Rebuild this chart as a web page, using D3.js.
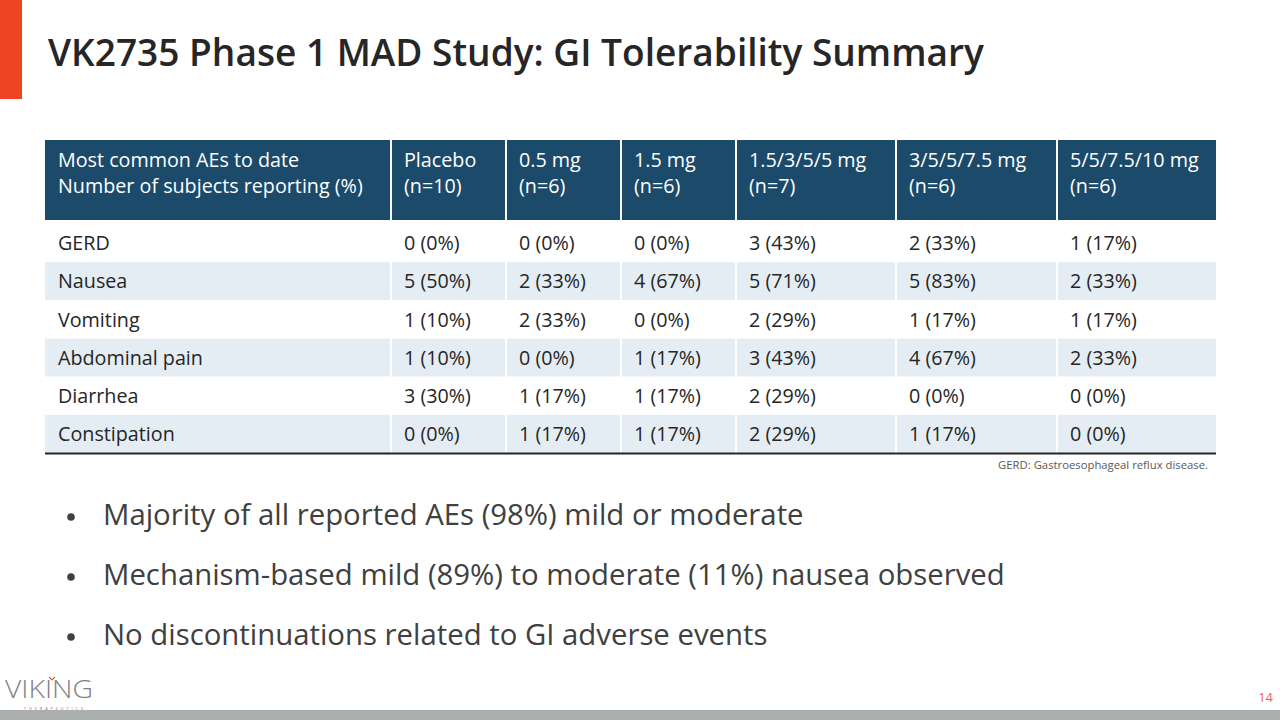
<!DOCTYPE html>
<html><head><meta charset="utf-8">
<script src="https://cdn.jsdelivr.net/npm/d3@7"></script>
<style>html,body{margin:0;padding:0;background:#fff;}svg{display:block;}</style>
</head><body>
<svg id="c" width="1280" height="720"></svg>
<script>
// ---- data ----
const title = "VK2735 Phase 1 MAD Study: GI Tolerability Summary";
const headerLabel = ["Most common AEs to date", "Number of subjects reporting (%)"];
const groups = ["Placebo", "0.5 mg", "1.5 mg", "1.5/3/5/5 mg", "3/5/5/7.5 mg", "5/5/7.5/10 mg"];
const groupN = [10, 6, 6, 7, 6, 6];
const events = ["GERD", "Nausea", "Vomiting", "Abdominal pain", "Diarrhea", "Constipation"];
const gerdCounts = [0, 0, 0, 3, 2, 1];
const gerdPct = [0, 0, 0, 43, 33, 17];
const nauseaCounts = [5, 2, 4, 5, 5, 2];
const nauseaPct = [50, 33, 67, 71, 83, 33];
const vomitingCounts = [1, 2, 0, 2, 1, 1];
const vomitingPct = [10, 33, 0, 29, 17, 17];
const abdominalCounts = [1, 0, 1, 3, 4, 2];
const abdominalPct = [10, 0, 17, 43, 67, 33];
const diarrheaCounts = [3, 1, 1, 2, 0, 0];
const diarrheaPct = [30, 17, 17, 29, 0, 0];
const constipationCounts = [0, 1, 1, 2, 1, 0];
const constipationPct = [0, 17, 17, 29, 17, 0];
const footnote = "GERD: Gastroesophageal reflux disease.";
const bullets = [
  "Majority of all reported AEs (98%) mild or moderate",
  "Mechanism-based mild (89%) to moderate (11%) nausea observed",
  "No discontinuations related to GI adverse events"
];
const pageNumber = "14";

// ---- build table ----
const counts = [gerdCounts, nauseaCounts, vomitingCounts, abdominalCounts, diarrheaCounts, constipationCounts];
const pcts = [gerdPct, nauseaPct, vomitingPct, abdominalPct, diarrheaPct, constipationPct];
const rows = events.map((e, i) => ({event: e, i, cells: counts[i].map((c, j) => `${c} (${pcts[i][j]}%)`)}));

const svg = d3.select("#c");
const FONT = "'Open Sans', 'Noto Sans', sans-serif";

function fitSize(text, targetW, weight, base) {
  const t = svg.append("text").attr("font-family", FONT).attr("font-weight", weight)
    .attr("font-size", base).text(text);
  const w = t.node().getComputedTextLength();
  t.remove();
  return base * targetW / w;
}

// red accent & bottom bar
svg.append("rect").attr("x", 0).attr("y", 0).attr("width", 22).attr("height", 99).attr("fill", "#EE4424");
svg.append("rect").attr("x", 0).attr("y", 710).attr("width", 1280).attr("height", 10).attr("fill", "#ABAFAE");

// title
const titleSize = fitSize(title, 936, 600, 34);
svg.append("text").attr("x", 48).attr("y", 66).attr("font-family", FONT).attr("font-weight", 600)
  .attr("font-size", titleSize).attr("fill", "#262626").text(title);

// table layout
const colEdges = [45, 391, 506, 621, 736, 896, 1057, 1216];
const colNames = ["label"].concat(groups);
const xLeft = d3.scaleOrdinal().domain(colNames).range(colEdges.slice(0, -1));
const xRight = d3.scaleOrdinal().domain(colNames).range(colEdges.slice(1));
const headTop = 140, headBot = 220;
const y = d3.scaleBand().domain(events).range([224, 453]).paddingInner(0);

const cellSize = fitSize("Number of subjects reporting (%)", 305, 400, 20);
const padX = 13;

// header
const hdr = svg.append("g");
colNames.forEach((c, j) => {
  const x0 = xLeft(c), x1 = xRight(c);
  hdr.append("rect").attr("x", x0 + (j ? 1 : 0)).attr("y", headTop)
    .attr("width", x1 - x0 - (j ? 1 : 0) - (j < colNames.length - 1 ? 1 : 0)).attr("height", headBot - headTop)
    .attr("fill", "#1B4A6A");
  const lines = j === 0 ? headerLabel : [c, `(n=${groupN[j - 1]})`];
  lines.forEach((l, k) => {
    hdr.append("text").attr("x", x0 + padX).attr("y", 167 + k * 26).attr("font-family", FONT)
      .attr("font-size", cellSize).attr("fill", "#ffffff").text(l);
  });
});

// body
const body = svg.append("g");
const rg = body.selectAll("g.row").data(rows).join("g").attr("class", "row");
rg.each(function (r) {
  const g = d3.select(this);
  const y0 = y(r.event), h = y.bandwidth();
  const fill = r.i % 2 === 1 ? "#E5EDF4" : "#ffffff";
  const vals = [r.event].concat(r.cells);
  colNames.forEach((c, j) => {
    const x0 = xLeft(c), x1 = xRight(c);
    g.append("rect").attr("x", x0 + (j ? 1 : 0)).attr("y", y0)
      .attr("width", x1 - x0 - (j ? 1 : 0) - (j < colNames.length - 1 ? 1 : 0)).attr("height", h)
      .attr("fill", fill);
    g.append("text").attr("x", x0 + padX).attr("y", y0 + h / 2).attr("dy", "0.36em")
      .attr("font-family", FONT).attr("font-size", cellSize).attr("fill", "#262626").text(vals[j]);
  });
});
svg.append("line").attr("x1", 45).attr("x2", 1216).attr("y1", 453.5).attr("y2", 453.5)
  .attr("stroke", "#262626").attr("stroke-width", 2);

// footnote
svg.append("text").attr("x", 1208).attr("y", 469).attr("text-anchor", "end").attr("font-family", FONT)
  .attr("font-size", 11.3).attr("fill", "#595959").text(footnote);

// bullets
const bSize = fitSize(bullets[1], 902, 400, 30);
bullets.forEach((b, i) => {
  const by = 525 + i * 60;
  svg.append("circle").attr("cx", 71).attr("cy", by - 8).attr("r", 3.8).attr("fill", "#404040");
  svg.append("text").attr("x", 103).attr("y", by).attr("font-family", FONT).attr("font-size", bSize)
    .attr("fill", "#404040").text(b);
});

// logo
svg.append("text").attr("x", 5).attr("y", 698).attr("font-family", FONT).attr("font-weight", 300)
  .attr("font-size", 25).attr("fill", "#808285").attr("textLength", 88).attr("lengthAdjust", "spacingAndGlyphs").text("VIKING");
svg.append("path").attr("d", "M49 677 l3 3 l3 -3").attr("stroke", "#D9534F").attr("fill", "none").attr("stroke-width", 1.2);
svg.append("text").attr("x", 24).attr("y", 709.5).attr("font-family", FONT).attr("font-size", 4)
  .attr("fill", "#D9534F").attr("textLength", 59).text("THERAPEUTICS");

// page number
svg.append("text").attr("x", 1273).attr("y", 702).attr("text-anchor", "end").attr("font-family", FONT)
  .attr("font-size", 13).attr("fill", "#E8665A").text(pageNumber);
</script>
</body></html>
